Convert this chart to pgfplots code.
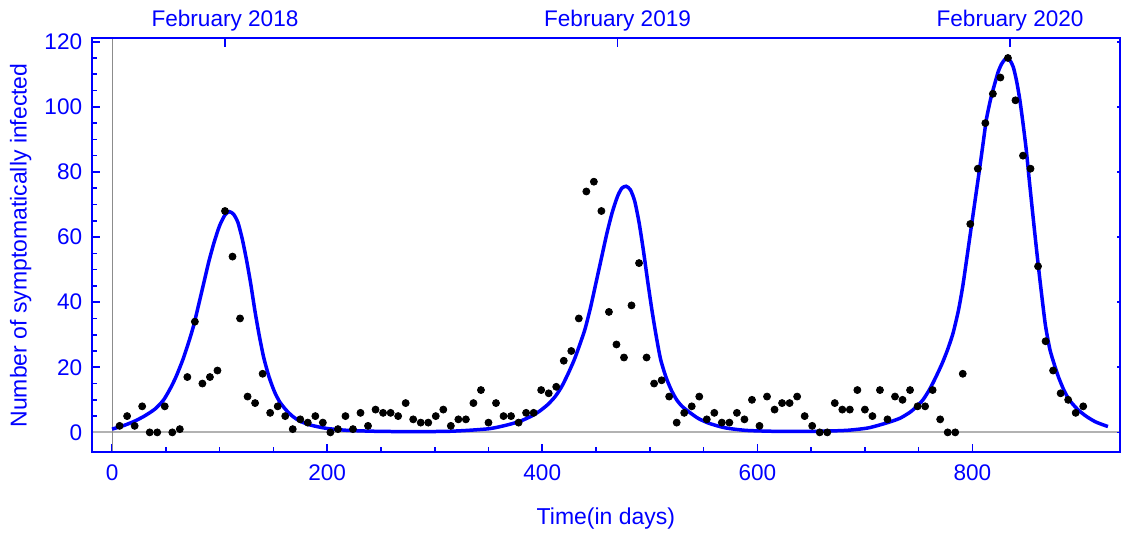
\documentclass[border=0pt]{standalone}
\usepackage{fontspec}
\setmainfont{Liberation Sans}
\usepackage{pgfplots}
\usepackage{pgfplotstable}
\pgfplotsset{compat=1.18}
\definecolor{mblue}{RGB}{0,0,255}

\pgfplotstableread{
day val
7 2
14 5
21 2
28 8
35 0
42 0
49 8
56 0
63 1
70 17
77 34
84 15
91 17
98 19
105 68
112 54
119 35
126 11
133 9
140 18
147 6
154 8
161 5
168 1
175 4
182 3
189 5
196 3
203 0
210 1
217 5
224 1
231 6
238 2
245 7
252 6
259 6
266 5
273 9
280 4
287 3
294 3
301 5
308 7
315 2
322 4
329 4
336 9
343 13
350 3
357 9
364 5
371 5
378 3
385 6
392 6
399 13
406 12
413 14
420 22
427 25
434 35
441 74
448 77
455 68
462 37
469 27
476 23
483 39
490 52
497 23
504 15
511 16
518 11
525 3
532 6
539 8
546 11
553 4
560 6
567 3
574 3
581 6
588 4
595 10
602 2
609 11
616 7
623 9
630 9
637 11
644 5
651 2
658 0
665 0
672 9
679 7
686 7
693 13
700 7
707 5
714 13
721 4
728 11
735 10
742 13
749 8
756 8
763 13
770 4
777 0
784 0
791 18
798 64
805 81
812 95
819 104
826 109
833 115
840 102
847 85
854 81
861 51
868 28
875 19
882 12
889 10
896 6
903 8
}\obsdata

\pgfplotstableread{
day val
0 1.0
10 2.0
20 3.3
30 5.0
40 7.2
48 10
55 14
60 17.5
66 22.5
72 28.5
76 33
80 38.5
85 45.5
90 52.5
95 58.5
100 63.5
105 66.8
109 67.8
113 67.0
117 64.5
121 59.5
125 53
129 45.5
133 37
137 29.5
141 23
146 17
151 12.5
156 9.3
162 6.8
168 4.9
175 3.4
185 2.2
200 1.2
220 0.6
250 0.3
280 0.25
310 0.3
330 0.6
350 1.1
360 1.7
370 2.5
380 3.5
390 5.0
397 6.4
405 8.5
412 11
418 14
424 18
430 22.5
436 28
440 32
445 38.5
450 46
455 53.5
460 61
465 67.5
470 72.5
474 75
478 75.6
482 74.5
486 71
490 64.5
494 56
498 46.5
502 37.5
506 29.5
510 22.5
515 17
520 13
525 10
530 8
536 6.4
545 4.3
555 2.8
570 1.4
590 0.6
620 0.3
650 0.3
682 0.6
702 1.3
714 2.3
724 3.3
733 4.4
742 6.2
748 7.9
754 10
760 13.1
766 17
772 21.3
777 25.5
782 30.5
787 37.5
791 44.9
795 54
799 63.3
803 72.5
807 81.8
810 89
813 96.2
817 102.5
821 107.4
824 110.8
827 113.1
830 114.5
832 114.8
835 114.2
838 112.2
841 108
844 102.3
847 95
850 86.9
853 77
856 67.4
859 58
862 49
865 40.5
868 32.6
872 25.5
876 21
880 17
885 13
890 10
898 7
906 4.9
914 3.3
920 2.5
926 1.8
}\fitdata

\begin{document}
\begin{tikzpicture}[font=\fontsize{11.3}{13.5}\selectfont]
\pgfplotsset{
  base/.style={
    scale only axis, width=514.65pt, height=207.1pt,
    xmin=-19, xmax=937.4, ymin=-6.14, ymax=121,
    axis line style={mblue, line width=1pt},
    tick style={mblue, line width=0.8pt},
    tick align=inside,
    ticklabel style={text=mblue, font=\fontsize{11.3}{13.5}\selectfont},
    /pgf/number format/assume math mode=true,
    label style={text=mblue, font=\fontsize{11.5}{13.5}\selectfont},
  }
}
\begin{axis}[base, name=ax,
  xtick={0,200,...,800}, minor x tick num=3,
  ytick={0,20,...,120}, minor y tick num=3,
  xtick pos=left, ytick pos=left,
  major tick length=4.3pt, minor tick length=2.7pt,
  xticklabel style={yshift=-2.9pt},
  yticklabel style={xshift=-1.2pt},
  xlabel={Time(in days)},
  ylabel={Number of symptomatically infected},
  xlabel style={at={(axis description cs:0.5,-0.1746)}, anchor=base},
  ylabel style={at={(axis description cs:-0.0632,0.5)}, anchor=base, rotate=0},
]
\addplot[color=black!30, line width=1pt, forget plot] coordinates {(-19,0) (937.4,0)};
\addplot[color=black!45, line width=0.5pt, forget plot] coordinates {(0,-6.14) (0,121)};
\addplot[color=mblue, line width=1.75pt, smooth, tension=0.4, no marks] table[x=day, y=val] {\fitdata};
\addplot[only marks, mark=*, mark size=1.75pt, color=black] table[x=day, y=val] {\obsdata};
\end{axis}
\begin{axis}[base,
  xtick={105,470,835}, xticklabels={February 2018, February 2019, February 2020},
  xtick pos=right, xticklabel pos=right,
  ytick=\empty, major tick length=4.5pt,
]
\end{axis}
\begin{axis}[base,
  xtick=\empty,
  ytick={0,20,...,120}, yticklabels={}, ytick pos=right,
  major tick length=1.5pt,
]
\end{axis}
\pgfresetboundingbox
\path ([shift={(-45.85pt,-40.65pt)}]ax.south west) rectangle ([shift={(0.4pt,19.25pt)}]ax.north east);
\end{tikzpicture}
\end{document}
